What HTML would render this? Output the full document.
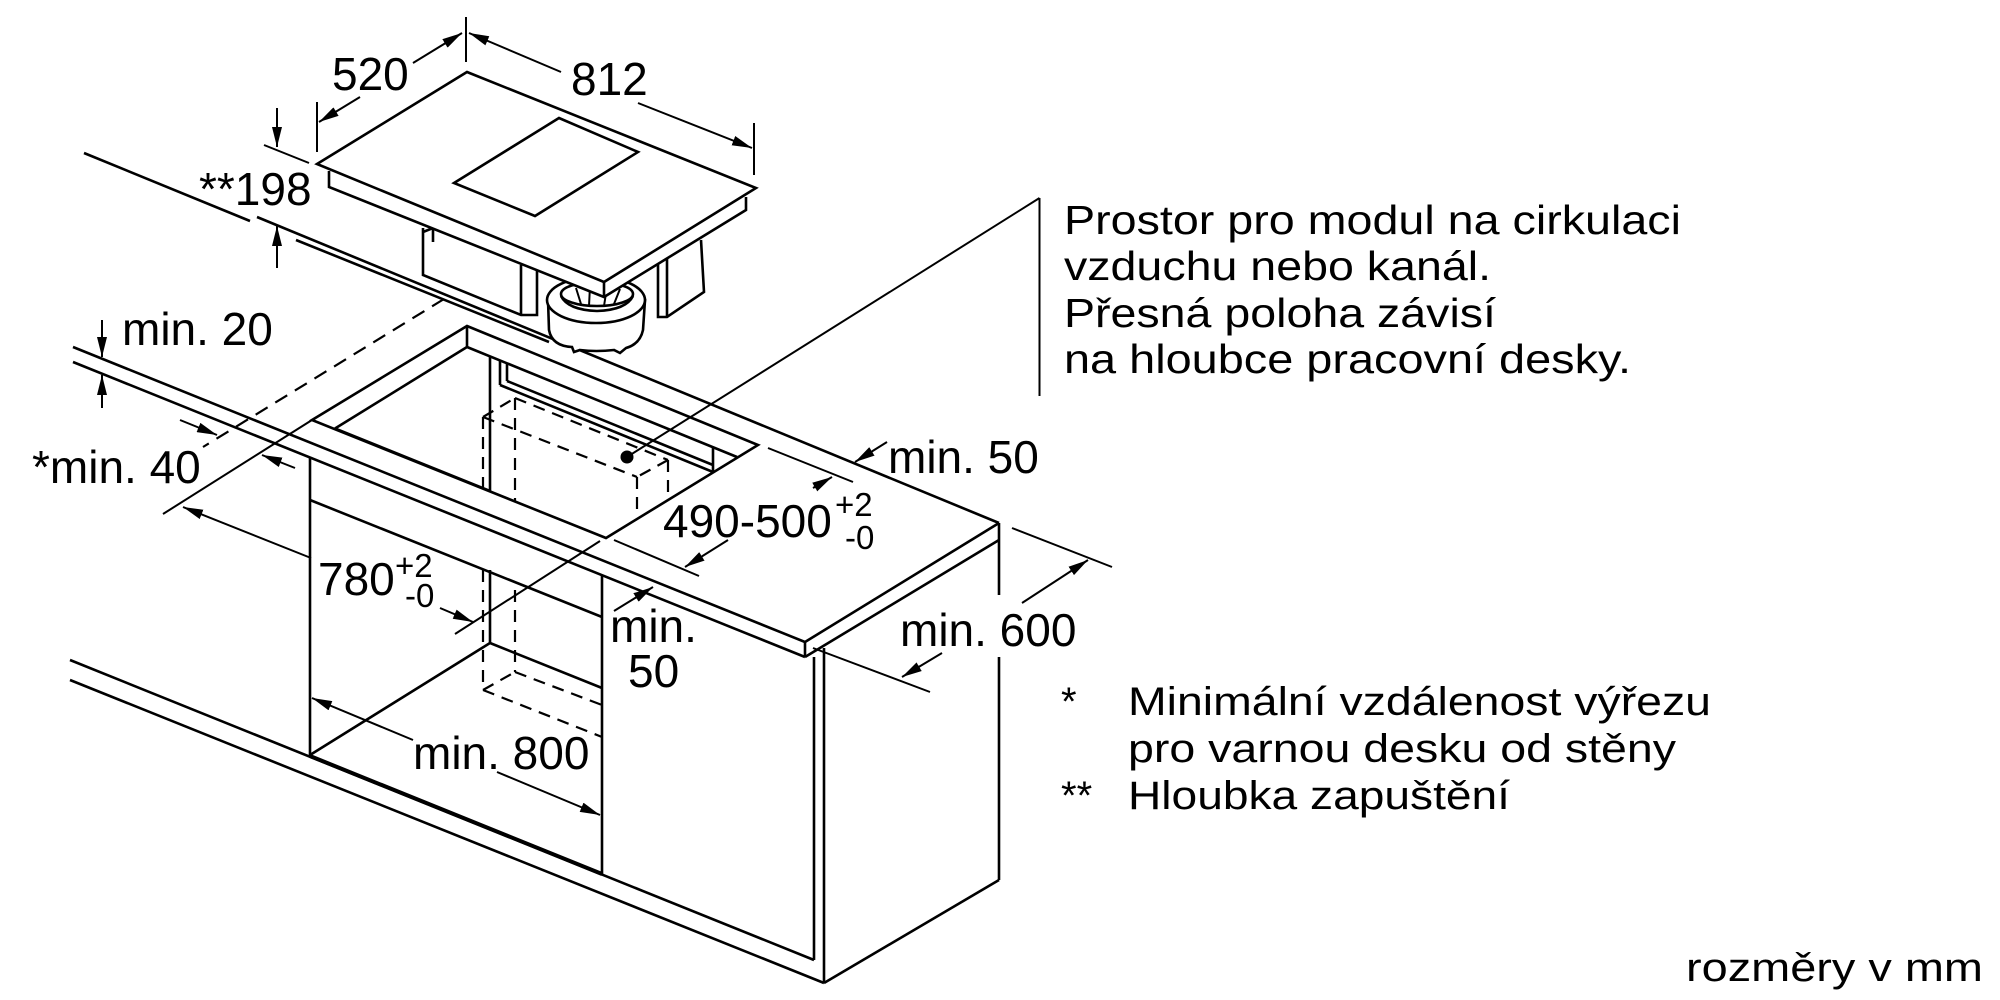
<!DOCTYPE html>
<html><head><meta charset="utf-8"><style>
html,body{margin:0;padding:0;background:#fff;}
svg{display:block;}
text{font-family:"Liberation Sans",Arial,sans-serif;fill:#000;}
</style></head><body>
<svg width="2000" height="1000" viewBox="0 0 2000 1000" xmlns="http://www.w3.org/2000/svg">
<defs>
<marker id="a" markerUnits="userSpaceOnUse" markerWidth="20" markerHeight="10" refX="20" refY="5" orient="auto" viewBox="0 0 20 10"><path d="M0,0 L20,5 L0,10 Z" fill="#000"/></marker>
</defs>
<rect width="2000" height="1000" fill="#fff"/>

<!-- main structure -->
<g stroke="#000" stroke-width="2.6" fill="none">
 <!-- wall line -->
 <line x1="84" y1="153" x2="250" y2="221"/>
 <line x1="296" y1="240" x2="549" y2="342"/>
 <!-- worktop back edge -->
 <line x1="257" y1="217" x2="999" y2="523"/>
 <!-- worktop front -->
 <line x1="73" y1="347" x2="805" y2="642"/>
 <line x1="73" y1="362" x2="805" y2="657"/>
 <line x1="805" y1="642" x2="999" y2="523"/>
 <line x1="805" y1="642" x2="805" y2="657"/>
 <line x1="805" y1="657" x2="999" y2="540"/>
 <!-- right cabinet -->
 <line x1="999" y1="523" x2="999" y2="595"/>
 <line x1="999" y1="657" x2="999" y2="880"/>
 <line x1="824" y1="648" x2="824" y2="983"/>
 <line x1="814" y1="657" x2="814" y2="960"/>
 <line x1="824" y1="983" x2="999" y2="880"/>
 <!-- plinth -->
 <line x1="70" y1="660" x2="814" y2="960"/>
 <line x1="70" y1="680" x2="824" y2="983"/>
 <line x1="310" y1="756" x2="602" y2="874" stroke-width="4"/>
 <!-- niche -->
 <line x1="310" y1="457" x2="310" y2="756"/>
 <line x1="310" y1="500" x2="602" y2="617"/>
 <line x1="602" y1="575" x2="602" y2="874"/>
 <line x1="490" y1="570" x2="490" y2="643"/>
 <line x1="490" y1="643" x2="310" y2="755"/>
 <line x1="490" y1="643" x2="602" y2="688"/>
 <!-- cutout -->
 <polygon points="312,420 467,326 758,445 606,538"/>
 <line x1="467" y1="326" x2="467" y2="347"/>
 <line x1="467" y1="347" x2="335" y2="428.5"/>
 <line x1="467" y1="347" x2="737" y2="457"/>
 <line x1="335" y1="428.5" x2="490" y2="491"/>
 <line x1="490" y1="356" x2="490" y2="491"/>
 <!-- channel -->
 <line x1="500" y1="361" x2="500" y2="385"/>
 <line x1="507" y1="364" x2="507" y2="381"/>
 <line x1="500" y1="385" x2="713" y2="472"/>
 <line x1="507" y1="381" x2="713" y2="465"/>
 <line x1="713" y1="447" x2="713" y2="472"/>
</g>

<!-- dashed module box -->
<g stroke="#000" stroke-width="2.2" fill="none" stroke-dasharray="12 8">
 <line x1="483" y1="417" x2="515" y2="398"/>
 <line x1="515" y1="398" x2="668" y2="460"/>
 <line x1="483" y1="417" x2="637" y2="477"/>
 <line x1="668" y1="460" x2="637" y2="477"/>
 <line x1="483" y1="417" x2="483" y2="490"/>
 <line x1="515" y1="398" x2="515" y2="502"/>
 <line x1="637" y1="477" x2="637" y2="516"/>
 <line x1="668" y1="460" x2="668" y2="497"/>
 <line x1="483" y1="570" x2="483" y2="690"/>
 <line x1="515" y1="590" x2="515" y2="672"/>
 <line x1="483" y1="690" x2="515" y2="672"/>
 <line x1="483" y1="690" x2="602" y2="737"/>
 <line x1="515" y1="672" x2="602" y2="705"/>
 <line x1="444" y1="299" x2="203" y2="447" stroke-dasharray="14 9"/>
</g>

<circle cx="627" cy="457" r="6.5" fill="#000"/>

<!-- dimension & leader lines -->
<g stroke="#000" stroke-width="2" fill="none">
 <line x1="627" y1="457" x2="1039.5" y2="198"/>
 <line x1="1039.5" y1="198" x2="1039.5" y2="396"/>
 <line x1="466" y1="17" x2="466" y2="62"/>
 <line x1="413" y1="63" x2="462" y2="33" marker-end="url(#a)"/>
 <line x1="360" y1="97" x2="319" y2="122" marker-end="url(#a)"/>
 <line x1="317" y1="102" x2="317" y2="152"/>
 <line x1="561" y1="72" x2="469" y2="33" marker-end="url(#a)"/>
 <line x1="638" y1="103" x2="752" y2="148" marker-end="url(#a)"/>
 <line x1="754" y1="123" x2="754" y2="175"/>
 <line x1="264" y1="145" x2="309" y2="163"/>
 <line x1="277" y1="108" x2="277" y2="147" marker-end="url(#a)"/>
 <line x1="277" y1="268" x2="277" y2="226" marker-end="url(#a)"/>
 <line x1="102" y1="320" x2="102" y2="357" marker-end="url(#a)"/>
 <line x1="102" y1="408" x2="102" y2="375" marker-end="url(#a)"/>
 <line x1="180" y1="420" x2="217" y2="435" marker-end="url(#a)"/>
 <line x1="295" y1="468" x2="262" y2="455" marker-end="url(#a)"/>
 <line x1="312" y1="420" x2="163" y2="514"/>
 <line x1="600" y1="541" x2="455" y2="634"/>
 <line x1="311" y1="558" x2="183" y2="507" marker-end="url(#a)"/>
 <line x1="440" y1="608" x2="473" y2="622" marker-end="url(#a)"/>
 <line x1="768" y1="448" x2="853" y2="482"/>
 <line x1="614" y1="540" x2="699" y2="576"/>
 <line x1="813" y1="488" x2="832" y2="477" marker-end="url(#a)"/>
 <line x1="728" y1="540" x2="685" y2="567" marker-end="url(#a)"/>
 <line x1="887" y1="442" x2="855" y2="462" marker-end="url(#a)"/>
 <line x1="614" y1="611" x2="653" y2="587" marker-end="url(#a)"/>
 <line x1="813" y1="648" x2="930" y2="692"/>
 <line x1="1012" y1="528" x2="1112" y2="567"/>
 <line x1="942" y1="653" x2="902" y2="677" marker-end="url(#a)"/>
 <line x1="1022" y1="603" x2="1088" y2="560" marker-end="url(#a)"/>
 <line x1="413" y1="740" x2="312" y2="698" marker-end="url(#a)"/>
 <line x1="497" y1="772" x2="600" y2="815" marker-end="url(#a)"/>
</g>

<!-- hob underside -->
<g stroke="#000" stroke-width="2.6" fill="#fff">
 <polygon points="423,226 537,270 537,315 521,315 423,275" stroke="none"/>
 <path d="M423,228 V275 L521,315 H537 V269 M521,265 V315 M423,232 L433,228 V242" fill="none"/>
 <polygon points="658,262 702,236 704,292 667,317 658,317" stroke="none"/>
 <path d="M658,263 V317 H667 L704,292 L701,240 M667,259 V317" fill="none"/>
 <!-- fan -->
 <path d="M548,300 L549,330 Q552,346 572,347 L574,352 L580,350 Q596,352 614,350 L620,353 L626,348 Q640,344 643,330 L645,300 Z"/>
 <ellipse cx="596" cy="300" rx="49" ry="23"/>
 <ellipse cx="597" cy="294" rx="36" ry="12"/>
 <path d="M561,296 Q568,310 597,311 Q626,310 633,296" fill="none"/>
 <path d="M576,288 L581,304 M590,286 L589,306 M607,287 L604,306 M620,289 L614,304" fill="none" stroke-width="2"/>
</g>

<!-- hob body -->
<g stroke="#000" stroke-width="2.6">
 <polygon points="317,164 467,72 756,188 746,197 746,210 604,297 329,187 329,171" fill="#fff" stroke="none"/>
 <polygon points="317,164 467,72 756,188 604,282" fill="#fff"/>
 <polygon points="454,183 559,118 638,152 535,216" fill="none"/>
 <path d="M329,171 V187 L604,297 L746,210 V197 M604,282 V297" fill="none"/>
</g>

<!-- dimension texts -->
<g font-size="46">
 <text x="332" y="90">520</text>
 <text x="571" y="95">812</text>
 <text x="199" y="205">**198</text>
 <text x="122" y="345">min. 20</text>
 <text x="32" y="483">*min. 40</text>
 <text x="318" y="595">780</text>
 <text x="663" y="537">490-500</text>
 <text x="888" y="473">min. 50</text>
 <text x="610" y="642">min.</text>
 <text x="628" y="687">50</text>
 <text x="900" y="646">min. 600</text>
 <text x="413" y="769">min. 800</text>
</g>
<g font-size="33">
 <text x="395" y="577">+2</text>
 <text x="405" y="607">-0</text>
 <text x="835" y="516">+2</text>
 <text x="845" y="549">-0</text>
</g>

<!-- notes -->
<g font-size="41">
 <text x="1064" y="234" textLength="617" lengthAdjust="spacingAndGlyphs">Prostor pro modul na cirkulaci</text>
 <text x="1064" y="280" textLength="427" lengthAdjust="spacingAndGlyphs">vzduchu nebo kanál.</text>
 <text x="1064" y="327" textLength="432" lengthAdjust="spacingAndGlyphs">Přesná poloha závisí</text>
 <text x="1064" y="373" textLength="567" lengthAdjust="spacingAndGlyphs">na hloubce pracovní desky.</text>
</g>
<g font-size="40">
 <text x="1061" y="715">*</text>
 <text x="1128" y="715" textLength="583" lengthAdjust="spacingAndGlyphs">Minimální vzdálenost výřezu</text>
 <text x="1128" y="762" textLength="548" lengthAdjust="spacingAndGlyphs">pro varnou desku od stěny</text>
 <text x="1061" y="809">**</text>
 <text x="1128" y="809" textLength="382" lengthAdjust="spacingAndGlyphs">Hloubka zapuštění</text>
 <text x="1686" y="981" textLength="297" lengthAdjust="spacingAndGlyphs">rozměry v mm</text>
</g>
</svg>
</body></html>
